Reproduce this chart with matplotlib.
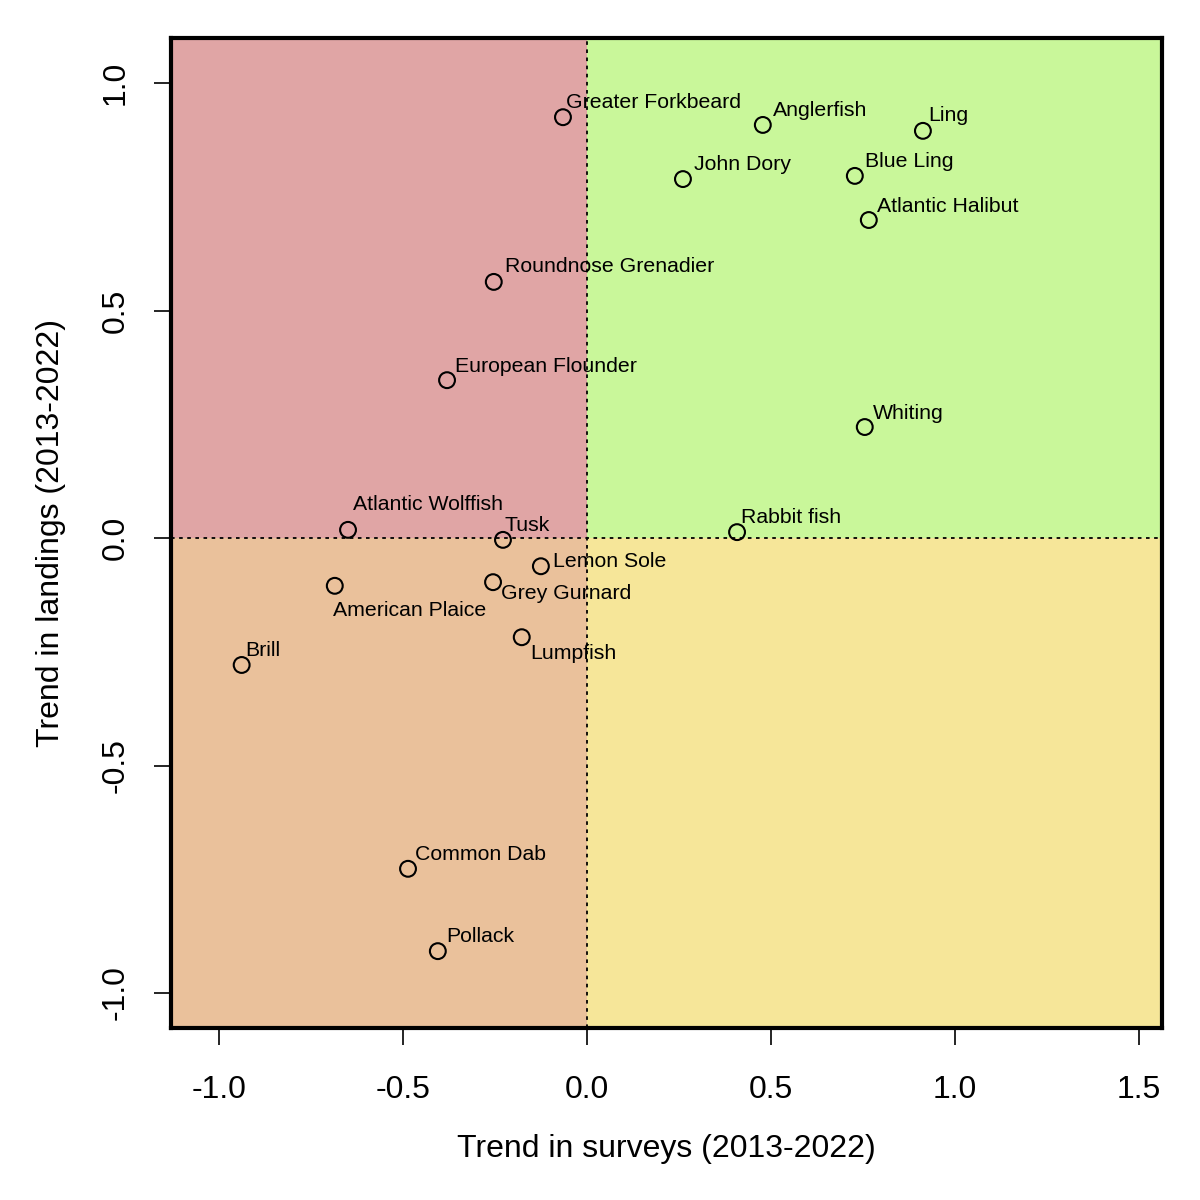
import matplotlib.pyplot as plt
from matplotlib.patches import Rectangle

plt.rcParams['font.family'] = ['Liberation Sans', 'DejaVu Sans']

# species trends (surveys, landings)
species = ['Greater Forkbeard', 'Anglerfish', 'Ling', 'John Dory', 'Blue Ling',
           'Atlantic Halibut', 'Roundnose Grenadier', 'European Flounder', 'Whiting',
           'Atlantic Wolffish', 'Tusk', 'Rabbit fish', 'Lemon Sole', 'American Plaice',
           'Grey Gurnard', 'Lumpfish', 'Brill', 'Common Dab', 'Pollack']
survey_trend = [-0.065, 0.478, 0.913, 0.261, 0.728, 0.766, -0.253, -0.380, 0.755,
                -0.649, -0.228, 0.408, -0.125, -0.685, -0.255, -0.177, -0.938, -0.486, -0.405]
landing_trend = [0.925, 0.908, 0.895, 0.789, 0.796, 0.699, 0.563, 0.347, 0.244,
                 0.018, -0.004, 0.013, -0.062, -0.105, -0.097, -0.218, -0.279, -0.727, -0.908]

# label offsets in pixels (dx right, dy up) relative to each point
label_dx = [3, 10, 5, 11, 10, 8, 11, 8, 8, 5, 2, 4, 12, -2, 8, 9, 4, 7, 8]
label_dy = [15, 14, 15, 15, 14, 14, 15, 14, 14, 25, 14, 15, 5, -25, -11, -16, 14, 14, 15]

xlim = (-1.13, 1.5625)
ylim = (-1.077, 1.099)

fig = plt.figure(figsize=(12, 12), dpi=100)
ax = fig.add_axes([0.1425, 0.1433, 0.8258, 0.8250])
ax.set_xlim(xlim)
ax.set_ylim(ylim)

# quadrant backgrounds
ax.add_patch(Rectangle((xlim[0], 0), -xlim[0], ylim[1], color='#E0A5A5', zorder=0, lw=0))
ax.add_patch(Rectangle((0, 0), xlim[1], ylim[1], color='#C9F79A', zorder=0, lw=0))
ax.add_patch(Rectangle((xlim[0], ylim[0]), -xlim[0], -ylim[0], color='#EAC19B', zorder=0, lw=0))
ax.add_patch(Rectangle((0, ylim[0]), xlim[1], -ylim[0], color='#F6E699', zorder=0, lw=0))

ax.axhline(0, color='black', ls=(0, (2, 2.5)), lw=1.3, zorder=1)
ax.axvline(0, color='black', ls=(0, (2, 2.5)), lw=1.3, zorder=1)

ax.scatter(survey_trend, landing_trend, s=130, facecolors='none', edgecolors='black',
           linewidths=1.5, zorder=3)

for name, x, y, dx, dy in zip(species, survey_trend, landing_trend, label_dx, label_dy):
    ax.annotate(name, (x, y), xytext=(dx * 0.72, dy * 0.72), textcoords='offset points',
                ha='left', va='center', fontsize=15.3, zorder=4)

ax.set_xticks([-1.0, -0.5, 0.0, 0.5, 1.0, 1.5])
ax.set_yticks([-1.0, -0.5, 0.0, 0.5, 1.0])
ax.set_xticklabels(['-1.0', '-0.5', '0.0', '0.5', '1.0', '1.5'])
ax.set_yticklabels(['-1.0', '-0.5', '0.0', '0.5', '1.0'], rotation=90, va='center')
ax.tick_params(labelsize=23, length=12, width=1.2, pad=22)
ax.tick_params(axis='y', pad=17)

for s in ax.spines.values():
    s.set_linewidth(3)

ax.set_xlabel('Trend in surveys (2013-2022)', fontsize=23, labelpad=21)
ax.set_ylabel('Trend in landings (2013-2022)', fontsize=23, labelpad=25)

fig.savefig('out.png', dpi=100)
